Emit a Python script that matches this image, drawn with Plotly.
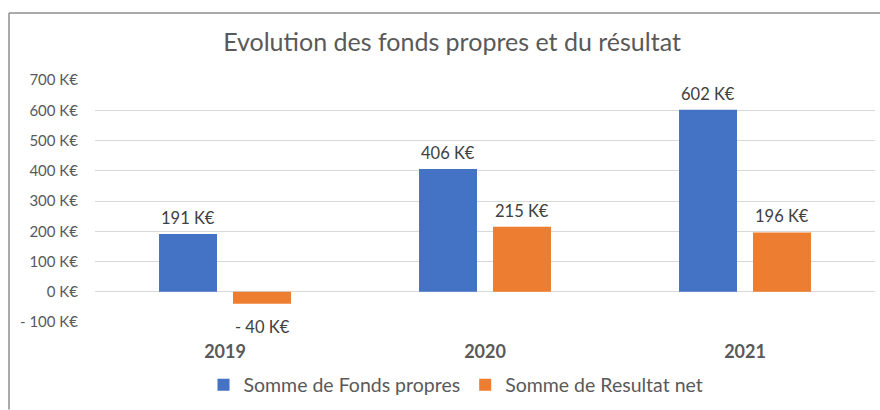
import plotly.graph_objects as go

years = ["2019", "2020", "2021"]
fonds_propres = [191, 406, 602]
resultat_net = [-40, 215, 196]
y_ticks = [-100, 0, 100, 200, 300, 400, 500, 600, 700]
series_names = ["Somme de Fonds propres", "Somme de Resultat net"]
title_text = "Evolution des fonds propres et du résultat"


def fmt(v):
    return ("- " if v < 0 else "") + f"{abs(v)} K€"


FONT = "Lato"
W, H = 880, 410
ML, MR, MT, MB = 95, 5, 80, 84
pw = W - ML - MR
ph = H - MT - MB


def px_x(px):
    return (px - ML) / pw


def px_y(py):
    return (H - MB - py) / ph


fig = go.Figure()
fig.add_trace(go.Bar(
    x=years, y=fonds_propres, name=series_names[0],
    marker=dict(color="#4472C4", line=dict(width=0)),
))
fig.add_trace(go.Bar(
    x=years, y=resultat_net, name=series_names[1],
    marker=dict(color="#ED7D31", line=dict(width=0)),
))

# data labels, placed at each bar's value on the data scale
# (x given as category index, since the year strings look numeric)
annotations = []
for series, shift in ((fonds_propres, -37), (resultat_net, 37)):
    for i, v in enumerate(series):
        annotations.append(dict(
            x=i, y=v, xref="x", yref="y", text=fmt(v), showarrow=False,
            xshift=shift, yanchor="bottom" if v >= 0 else "top",
            yshift=4 if v >= 0 else -11,
            font=dict(family=FONT, size=16.5, color="#404040"),
        ))

fig.update_layout(
    width=W, height=H,
    margin=dict(l=ML, r=MR, t=MT, b=MB),
    paper_bgcolor="white", plot_bgcolor="white",
    barmode="group", bargap=0.431, bargroupgap=0.216,
    font=dict(family=FONT, color="#595959"),
    title=dict(text=title_text, x=px_x(452), xref="paper", xanchor="center",
               y=1 - 42 / H, yref="container", yanchor="middle",
               font=dict(family=FONT, size=25, color="#595959")),
    showlegend=True,
    legend=dict(orientation="h", x=px_x(456), xanchor="center",
                y=px_y(390), yanchor="middle",
                font=dict(family=FONT, size=19.5, color="#595959"),
                itemclick=False, traceorder="normal"),
    annotations=annotations,
)
fig.update_yaxes(
    range=[-100, 700], tickvals=y_ticks, ticktext=[fmt(v) for v in y_ticks],
    showgrid=True, gridcolor="#d9d9d9", gridwidth=1,
    zeroline=True, zerolinecolor="#d9d9d9", zerolinewidth=1,
    showline=False, ticks="", ticklabelstandoff=16,
    tickfont=dict(family=FONT, size=15, color="#595959"),
    fixedrange=True,
)
fig.update_xaxes(
    type="category", categoryorder="array", categoryarray=years,
    range=[-0.5, len(years) - 0.5],
    showgrid=False, showline=False, ticks="", ticklabelstandoff=17,
    tickfont=dict(family=FONT, size=18, color="#595959", weight="bold"),
    fixedrange=True,
)

# chart frame (Excel chart area border, cropped on the right and bottom)
fig.add_shape(type="line", xref="paper", yref="paper",
              x0=px_x(9), x1=px_x(W + 5), y0=px_y(12), y1=px_y(12),
              line=dict(color="#8f8f8f", width=1.5))
fig.add_shape(type="line", xref="paper", yref="paper",
              x0=px_x(9), x1=px_x(9), y0=px_y(12), y1=px_y(H + 5),
              line=dict(color="#8f8f8f", width=1.5))

fig.write_html("out.html", config={"displayModeBar": False},
               post_script="document.body.style.margin='0';document.body.style.overflow='hidden';")
